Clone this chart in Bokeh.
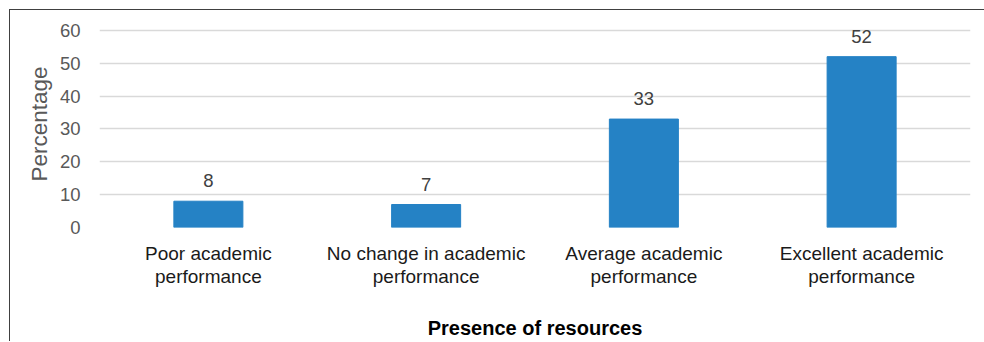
from bokeh.plotting import figure
from bokeh.models import (ColumnDataSource, Range1d, FixedTicker, LabelSet,
                          LinearAxis, CustomJSTickFormatter)
from bokeh.core.properties import value
from bokeh.embed import file_html
from bokeh.resources import INLINE

# Survey results: share of respondents per outcome
categories = ["Poor academic performance", "No change in academic performance",
              "Average academic performance", "Excellent academic performance"]
label_line1 = ["Poor academic", "No change in academic",
               "Average academic", "Excellent academic"]
label_line2 = ["performance", "performance", "performance", "performance"]
percentages = [8, 7, 33, 52]
y_ticks = [0, 10, 20, 30, 40, 50, 60]

FONT = "Liberation Sans"
BAR_COLOR = "#2582C5"
GRID_COLOR = "#D9D9D9"

# one unit-wide slot per category, bar centred in its slot
slot_centers = [i + 0.5 for i in range(len(categories))]

source = ColumnDataSource(dict(x=slot_centers, cat=categories, pct=percentages,
                               lbl=[str(v) for v in percentages]))

# figure sits inside a 9px margin with a thin frame on its left and top
p = figure(frame_width=871, frame_height=207,
           x_range=Range1d(0, len(categories)), y_range=Range1d(0, 63),
           output_backend="svg", toolbar_location=None,
           min_border_left=89, min_border_right=14, min_border_top=10,
           min_border_bottom=10,
           styles={"margin-left": "9px", "margin-top": "9px",
                   "border-left": "1px solid #404040",
                   "border-top": "1px solid #404040"})
p.outline_line_color = None
p.background_fill_color = "white"
p.border_fill_color = "white"

p.vbar(x="x", top="pct", width=0.317, source=source, color=BAR_COLOR)

# value labels above the bars
p.add_layout(LabelSet(x="x", y="pct", text="lbl", source=source, y_offset=14,
                      text_align="center", text_baseline="alphabetic",
                      text_font=value(FONT), text_font_size="18.5px",
                      text_color="#404040"))

# y axis
p.yaxis.ticker = FixedTicker(ticks=y_ticks)
p.yaxis.axis_line_color = None
p.yaxis.major_tick_line_color = None
p.yaxis.minor_tick_line_color = None
p.yaxis.major_label_standoff = 13
p.yaxis.major_label_text_font = FONT
p.yaxis.major_label_text_font_size = "18.5px"
p.yaxis.major_label_text_color = "#595959"
p.yaxis.axis_label = "Percentage"
p.yaxis.axis_label_text_font = FONT
p.yaxis.axis_label_text_font_size = "22.5px"
p.yaxis.axis_label_text_font_style = "normal"
p.yaxis.axis_label_text_color = "#595959"
p.yaxis.axis_label_standoff = 5


def style_category_axis(ax, lines, standoff):
    ax.ticker = FixedTicker(ticks=slot_centers)
    ax.formatter = CustomJSTickFormatter(args=dict(names=lines),
                                         code="return names[Math.floor(tick)];")
    ax.axis_line_color = None
    ax.major_tick_line_color = None
    ax.minor_tick_line_color = None
    ax.major_label_standoff = standoff
    ax.major_label_text_font = FONT
    ax.major_label_text_font_size = "19px"
    ax.major_label_text_color = "#1A1A1A"


# category names on two stacked axes, one line each
style_category_axis(p.xaxis[0], label_line1, 9)
second = LinearAxis()
style_category_axis(second, label_line2, -7)
second.axis_label = "Presence of resources"
second.axis_label_standoff = 27
second.axis_label_text_font = FONT
second.axis_label_text_font_size = "20px"
second.axis_label_text_font_style = "bold"
second.axis_label_text_color = "#000000"
p.add_layout(second, "below")

# grid
p.xgrid.grid_line_color = None
p.ygrid.grid_line_color = GRID_COLOR
p.ygrid.grid_line_width = 1.3

open("out.html", "w").write(file_html(p, INLINE))
